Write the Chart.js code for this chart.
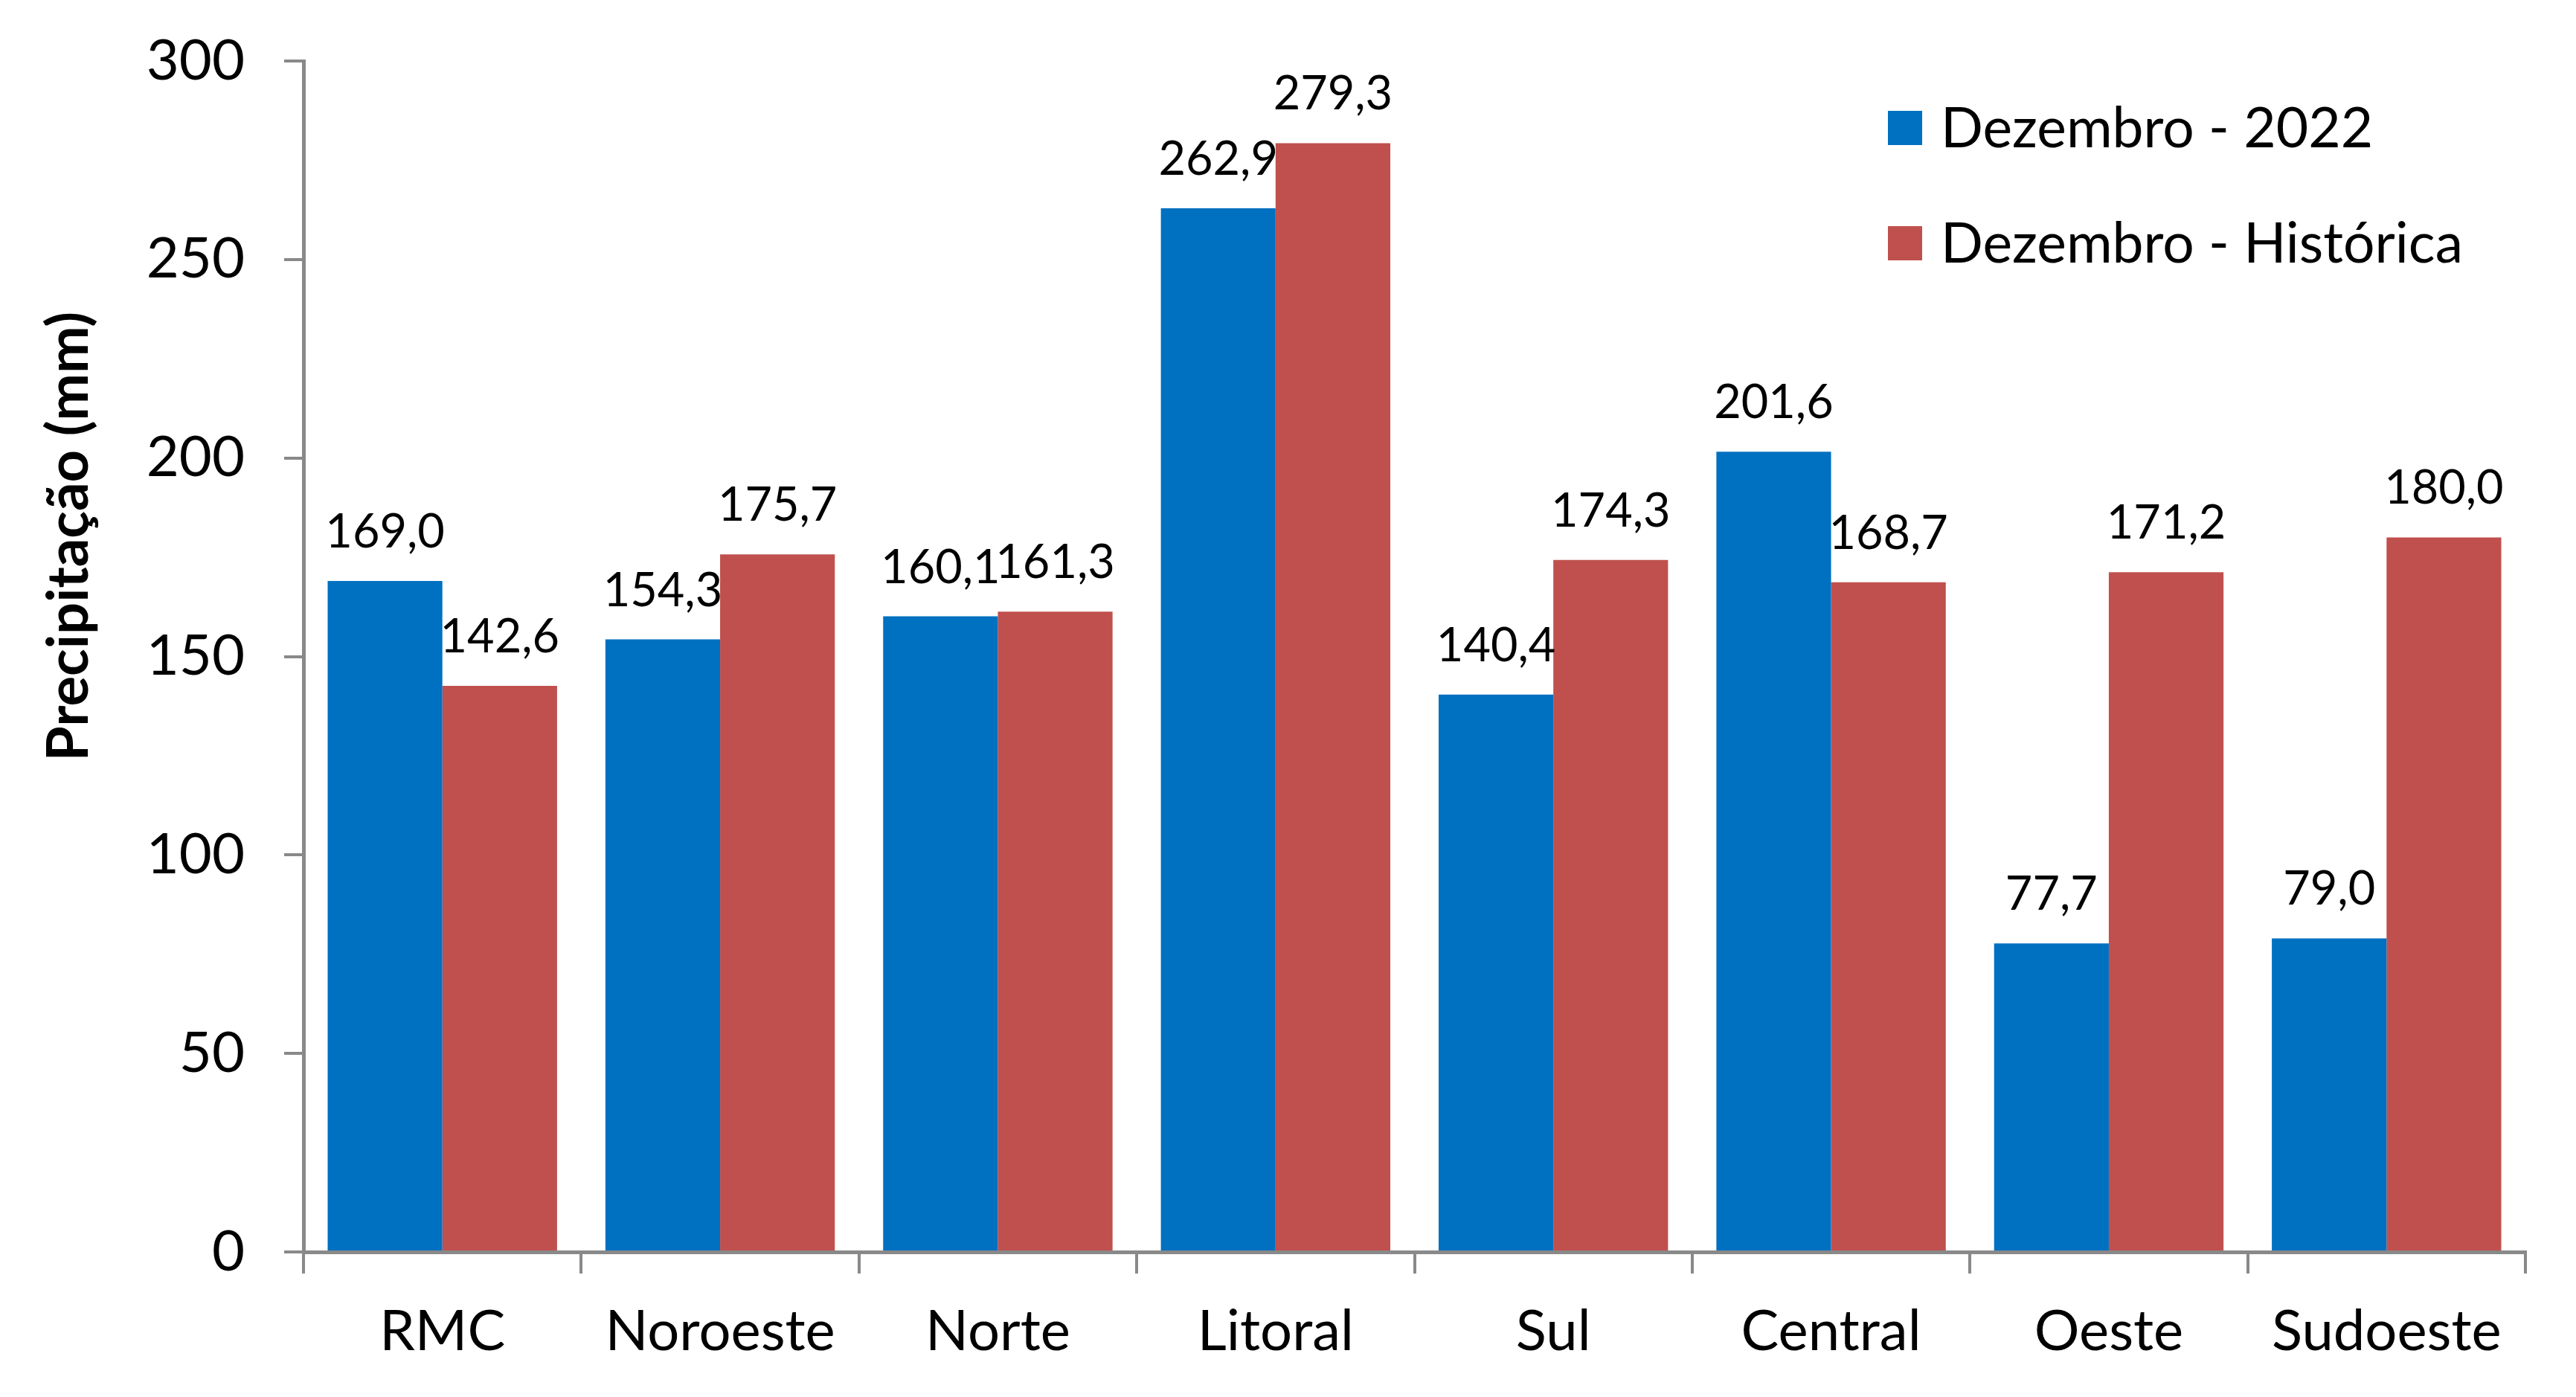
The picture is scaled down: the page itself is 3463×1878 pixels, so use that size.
<!DOCTYPE html>
<html>
<head>
<meta charset="utf-8">
<script src="https://cdn.jsdelivr.net/npm/chart.js@4.4.0/dist/chart.umd.min.js"></script>
<style>
  html, body { margin: 0; padding: 0; background: #fff; }
  #wrap { width: 3463px; height: 1878px; }
</style>
</head>
<body>
<div id="wrap"><canvas id="chart" width="3463" height="1878"></canvas></div>
<script>
// data
const regions = ["RMC", "Noroeste", "Norte", "Litoral", "Sul", "Central", "Oeste", "Sudoeste"];
const dez2022 = [169.0, 154.3, 160.1, 262.9, 140.4, 201.6, 77.7, 79.0];
const dezHistorica = [142.6, 175.7, 161.3, 279.3, 174.3, 168.7, 171.2, 180.0];
const seriesNames = ["Dezembro - 2022", "Dezembro - Histórica"];
const yTicks = [0, 50, 100, 150, 200, 250, 300];
const yTitle = "Precipitação (mm)";

const BLUE = "#0070C0";
const RED = "#C0504D";
const AXIS = "#898989";
const FONT = "Lato, 'Open Sans', sans-serif";

const fmt = v => v.toFixed(1).replace(".", ",");

// value labels above each bar
const barLabels = {
  id: "barLabels",
  afterDatasetsDraw(chart) {
    const ctx = chart.ctx;
    ctx.save();
    ctx.font = `63px ${FONT}`;
    ctx.fillStyle = "#000";
    ctx.textAlign = "center";
    ctx.textBaseline = "alphabetic";
    chart.data.datasets.forEach((ds, i) => {
      chart.getDatasetMeta(i).data.forEach((bar, j) => {
        ctx.fillText(fmt(ds.data[j]), bar.x, bar.y - 45);
      });
    });
    ctx.restore();
  }
};

// legend inside the plot (top right) + y axis title
const extras = {
  id: "extras",
  afterDraw(chart) {
    const ctx = chart.ctx;
    ctx.save();
    ctx.font = `75px ${FONT}`;
    ctx.textAlign = "left";
    ctx.textBaseline = "middle";
    chart.data.datasets.forEach((ds, i) => {
      const y = 149 + i * 155;
      ctx.fillStyle = ds.backgroundColor;
      ctx.fillRect(2538, y, 46, 46);
      ctx.fillStyle = "#000";
      ctx.fillText(ds.label, 2609, y + 25);
    });

    ctx.translate(118, 721);
    ctx.rotate(-Math.PI / 2);
    ctx.font = `bold 76px ${FONT}`;
    ctx.textAlign = "center";
    ctx.textBaseline = "alphabetic";
    ctx.fillText(yTitle, 0, 0);
    ctx.restore();
  }
};

Chart.defaults.font.family = FONT;

new Chart(document.getElementById("chart"), {
  type: "bar",
  data: {
    labels: regions,
    datasets: [
      { label: seriesNames[0], data: dez2022, backgroundColor: BLUE, borderWidth: 0 },
      { label: seriesNames[1], data: dezHistorica, backgroundColor: RED, borderWidth: 0 },
    ],
  },
  options: {
    responsive: false,
    animation: false,
    devicePixelRatio: 1,
    layout: { padding: { top: 82, right: 68, left: 0, bottom: 0 } },
    datasets: { bar: { categoryPercentage: 0.826, barPercentage: 1.0 } },
    plugins: { legend: { display: false }, tooltip: { enabled: false } },
    scales: {
      x: {
        offset: true,
        grid: { offset: true, drawOnChartArea: false, tickLength: 29, color: AXIS, lineWidth: 4 },
        border: { color: AXIS, width: 5 },
        ticks: { color: "#000", font: { size: 76 }, padding: 33 },
        afterFit: s => { s.height = 195; s.paddingLeft = 0; s.paddingRight = 0; },
      },
      y: {
        min: yTicks[0],
        max: yTicks[yTicks.length - 1],
        afterBuildTicks: s => { s.ticks = yTicks.map(v => ({ value: v })); },
        grid: { drawOnChartArea: false, tickLength: 26, color: AXIS, lineWidth: 4 },
        border: { color: AXIS, width: 5 },
        ticks: { color: "#000", font: { size: 76 }, padding: 53 },
        afterFit: s => { s.width = 408; s.paddingTop = 0; s.paddingBottom = 0; },
      },
    },
  },
  plugins: [barLabels, extras],
});
</script>
</body>
</html>
